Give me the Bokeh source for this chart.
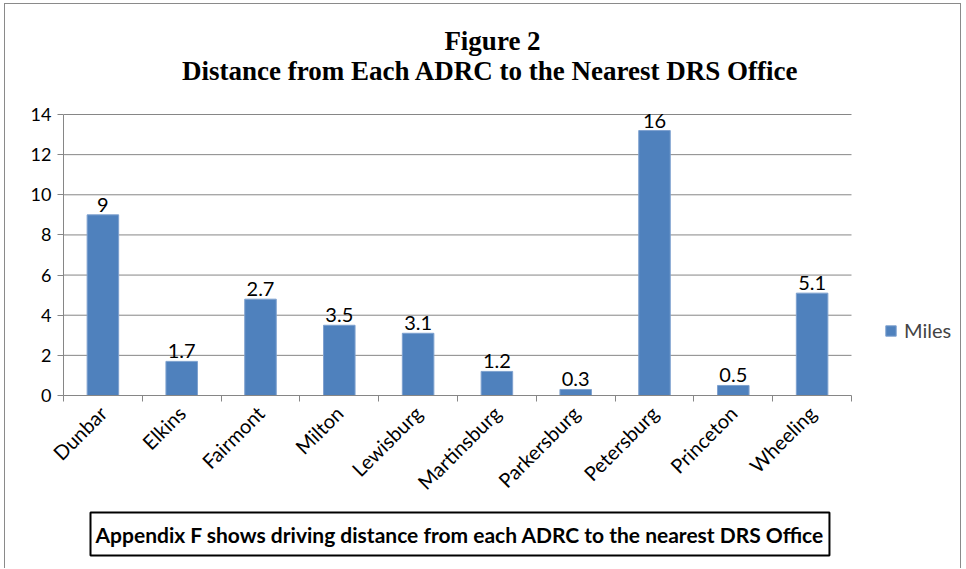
from math import pi
from bokeh.plotting import figure
from bokeh.models import (Range1d, LinearAxis, FixedTicker, Title, Label,
                          Legend, LegendItem, ColumnDataSource)
from bokeh.core.properties import value
from bokeh.embed import file_html
from bokeh.resources import INLINE

# ---- data ----
sites = ["Dunbar", "Elkins", "Fairmont", "Milton", "Lewisburg", "Martinsburg",
         "Parkersburg", "Petersburg", "Princeton", "Wheeling"]
bar_heights = [9, 1.7, 4.8, 3.5, 3.1, 1.2, 0.3, 13.2, 0.5, 5.1]
bar_labels = ["9", "1.7", "2.7", "3.5", "3.1", "1.2", "0.3", "16", "0.5", "5.1"]
y_ticks = [0, 2, 4, 6, 8, 10, 12, 14]
series_name = "Miles"
title_line1 = "Figure 2"
title_line2 = "Distance from Each ADRC to the Nearest DRS Office"
note_text = "Appendix F shows driving distance from each ADRC to the nearest DRS Office"

BAR = "#4F81BD"
GRID = "#868686"
SANS = "Lato"

n = len(sites)
y_max = y_ticks[-1]
centers = [i + 0.5 for i in range(n)]
src = ColumnDataSource(dict(x=centers, site=sites, h=bar_heights, lab=bar_labels))

# layout (canvas pixels); the frame extends above and right of the plotting area
W, H = 957, 565
LEFT, BOTTOM, RIGHT = 58, 174, 2
PLOT_W, PLOT_H = 788, 281
frame_w = W - LEFT - RIGHT
frame_h = H - BOTTOM
x_end = n * frame_w / PLOT_W
y_end = y_max * frame_h / PLOT_H

p = figure(width=W, height=H, x_range=Range1d(0, x_end), y_range=Range1d(0, y_end),
           output_backend="svg", toolbar_location=None,
           x_axis_location=None, y_axis_location="left",
           min_border_left=LEFT, min_border_right=RIGHT, min_border_top=0,
           min_border_bottom=BOTTOM)
p.margin = (3, 0, 0, 4)
p.styles = {"border-left": "1px solid #8a8a8a", "border-top": "1px solid #8a8a8a",
            "border-right": "1px solid #8a8a8a"}
p.outline_line_color = None
p.background_fill_color = "white"
p.border_fill_color = "white"
p.xgrid.visible = False
p.ygrid.visible = False
p.title.visible = False

# y axis
ya = p.yaxis[0]
ya.ticker = FixedTicker(ticks=y_ticks)
ya.bounds = (0, y_max)
ya.axis_line_color = GRID
ya.major_tick_line_color = GRID
ya.major_tick_out = 6
ya.major_tick_in = 0
ya.minor_tick_line_color = None
ya.major_label_text_font = SANS
ya.major_label_text_font_size = "18px"
ya.major_label_text_color = "black"
ya.major_label_standoff = 6

# horizontal gridlines limited to the category span
gl = [t for t in y_ticks if t > 0]
p.segment(x0=[0] * len(gl), x1=[n] * len(gl), y0=gl, y1=gl, line_color=GRID, line_width=1)

# x tick axis (boundary ticks)
tick_axis = LinearAxis(ticker=FixedTicker(ticks=list(range(n + 1))), bounds=(0, n),
                       major_label_text_font_size="0px", major_label_standoff=0,
                       axis_line_color=GRID, major_tick_line_color=GRID,
                       major_tick_out=6, major_tick_in=0, minor_tick_line_color=None)
p.add_layout(tick_axis, "below")

cat_axis = LinearAxis(ticker=FixedTicker(ticks=centers),
                      major_label_overrides={c: s for c, s in zip(centers, sites)},
                      axis_line_color=None, major_tick_line_color=None, minor_tick_line_color=None,
                      major_label_orientation=pi / 4,
                      major_label_text_font=SANS, major_label_text_font_size="20px",
                      major_label_text_color="black", major_label_standoff=2)
p.add_layout(cat_axis, "below")

bars = p.vbar(x="x", top="h", width=0.4, source=src, fill_color=BAR, line_color="#7EA1CF",
              line_width=1)

p.text(x="x", y="h", text="lab", source=src, text_align="center", text_baseline="bottom",
       y_offset=-3, text_font=value(SANS), text_font_size="20px", text_color="black")

legend = Legend(items=[LegendItem(label=series_name, renderers=[bars])], location=(821, 53),
                glyph_width=13, glyph_height=13, label_standoff=7, padding=0, margin=0,
                border_line_color=None, background_fill_alpha=0,
                label_text_font=SANS, label_text_font_size="20px")
p.add_layout(legend, "center")

tfont = "Liberation Serif"
p.add_layout(Label(x=429, y=355, x_units="screen", y_units="screen", text=title_line1,
                   text_align="center", text_baseline="middle", text_font=tfont,
                   text_font_style="bold", text_font_size="27px", text_color="black"))
p.add_layout(Label(x=427, y=325, x_units="screen", y_units="screen", text=title_line2,
                   text_align="center", text_baseline="middle", text_font=tfont,
                   text_font_style="bold", text_font_size="27px", text_color="black"))

note = Title(text=note_text, align="left", offset=27, standoff=10,
             text_font=SANS, text_font_style="bold", text_font_size="21px", text_color="black",
             border_line_color="black", border_line_width=2, background_fill_color="white",
             padding=(5, 9))
p.add_layout(note, "below")

open("out.html", "w").write(file_html(p, INLINE))
